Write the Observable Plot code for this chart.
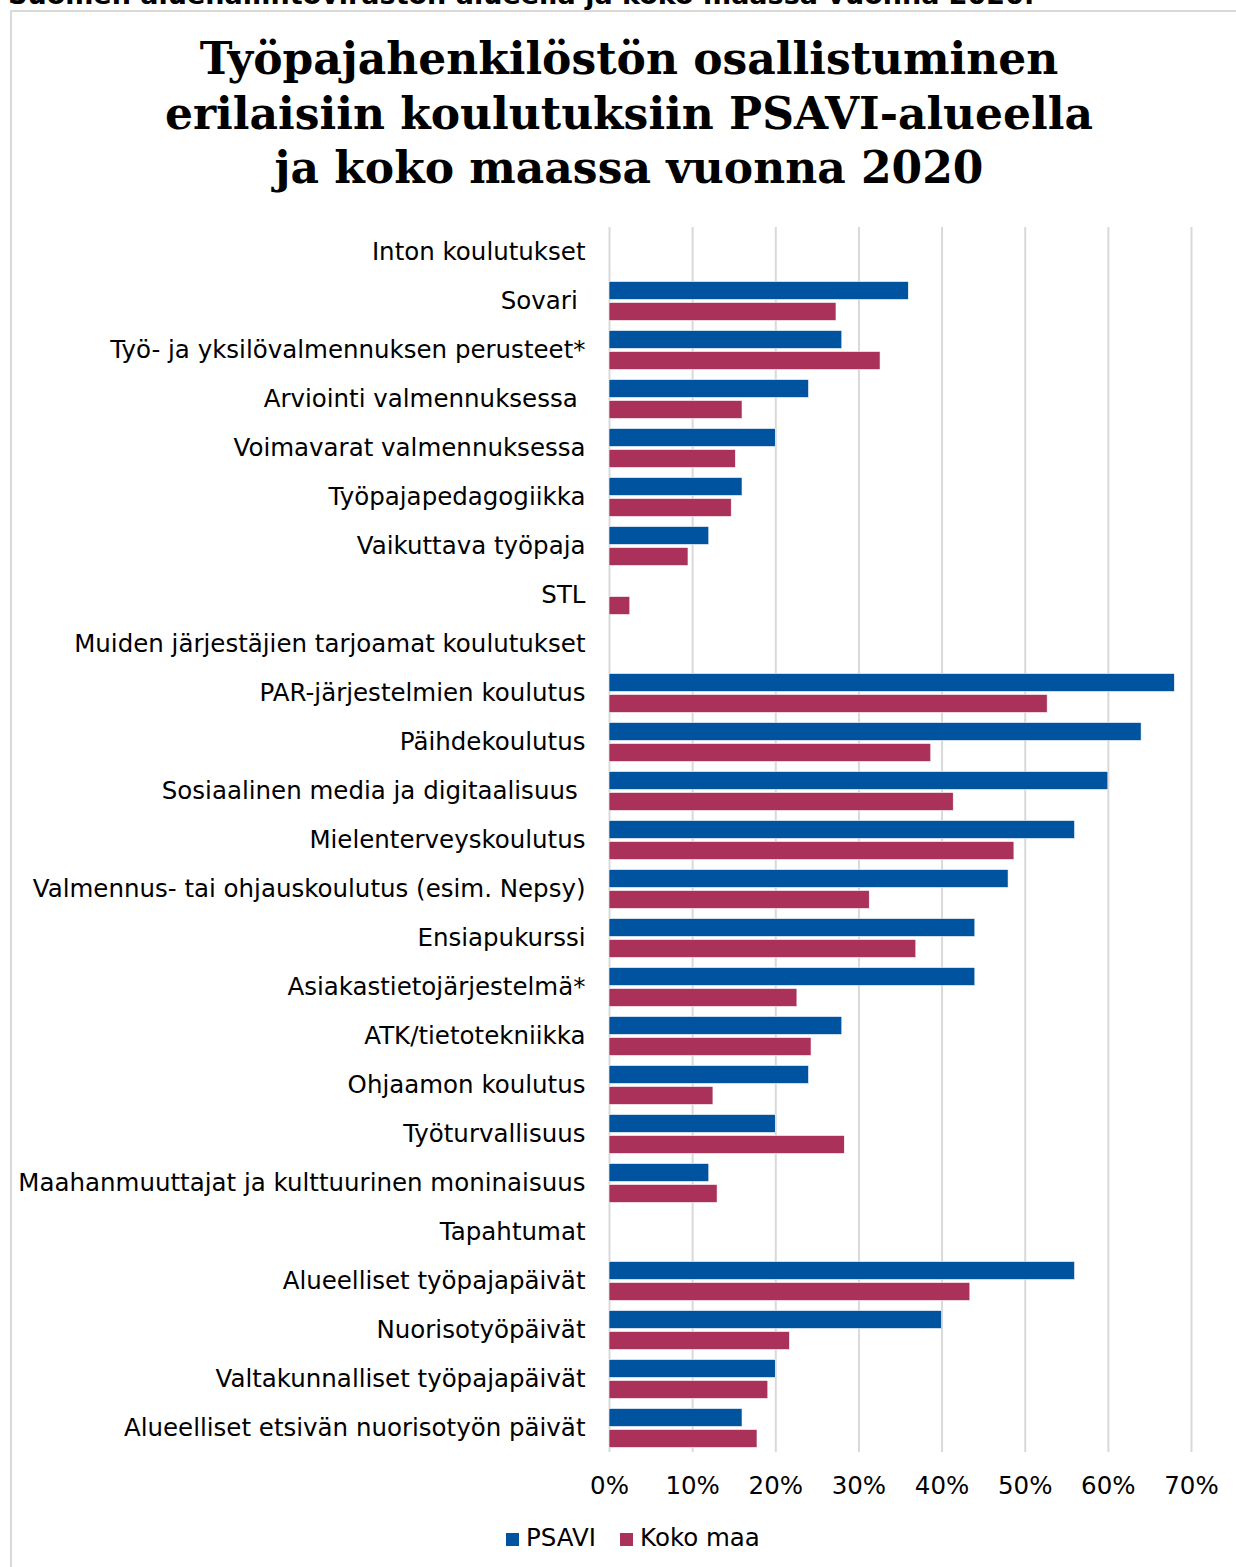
<!DOCTYPE html>
<html>
<head>
<meta charset="utf-8">
<script src="https://cdn.jsdelivr.net/npm/d3@7"></script>
<script src="https://cdn.jsdelivr.net/npm/@observablehq/plot@0.6"></script>
<style>
  html, body { margin: 0; padding: 0; background: #fff; }
  body { width: 1236px; height: 1567px; position: relative; overflow: hidden; font-family: "DejaVu Sans", Verdana, sans-serif; }
  #cut { position: absolute; left: 8px; top: -20px; font: bold 27px/30px "DejaVu Sans", Verdana, sans-serif; color: #000; white-space: nowrap; }
  #box { position: absolute; left: 10px; top: 10px; width: 1240px; height: 1570px; border: 2px solid #d9d9d9; box-sizing: border-box; }
  #title { position: absolute; left: 10px; width: 1238px; top: 32px; text-align: center; font: bold 44px/54.5px "DejaVu Serif", Georgia, serif; color: #000; }
  #chart { position: absolute; left: 0; top: 200px; }
  #legend { position: absolute; left: 0; width: 1236px; top: 1523px; display: flex; justify-content: center; padding-left: 30px; box-sizing: border-box; font: 24.5px "DejaVu Sans", Verdana, sans-serif; color: #000; }
  .item { display: flex; align-items: center; margin-right: 24px; }
  .item:last-child { margin-right: 0; }
  .sw { width: 13px; height: 13px; margin-right: 7px; margin-top: 3px; }
</style>
</head>
<body>
<div id="cut">Suomen aluehallintoviraston alueella ja koko maassa vuonna 2020.</div>
<div id="box"></div>
<div id="title">Työpajahenkilöstön osallistuminen<br>erilaisiin koulutuksiin PSAVI-alueella<br>ja koko maassa vuonna 2020</div>
<div id="chart"></div>
<div id="legend"></div>
<script>
const categories = [
  "Inton koulutukset",
  "Sovari\u00a0",
  "Työ- ja yksilövalmennuksen perusteet*",
  "Arviointi valmennuksessa\u00a0",
  "Voimavarat valmennuksessa",
  "Työpajapedagogiikka",
  "Vaikuttava työpaja",
  "STL",
  "Muiden järjestäjien tarjoamat koulutukset",
  "PAR-järjestelmien koulutus",
  "Päihdekoulutus",
  "Sosiaalinen media ja digitaalisuus\u00a0",
  "Mielenterveyskoulutus",
  "Valmennus- tai ohjauskoulutus (esim. Nepsy)",
  "Ensiapukurssi",
  "Asiakastietojärjestelmä*",
  "ATK/tietotekniikka",
  "Ohjaamon koulutus",
  "Työturvallisuus",
  "Maahanmuuttajat ja kulttuurinen moninaisuus",
  "Tapahtumat",
  "Alueelliset työpajapäivät",
  "Nuorisotyöpäivät",
  "Valtakunnalliset työpajapäivät",
  "Alueelliset etsivän nuorisotyön päivät"
];
const psavi   = [null, 36, 28, 24, 20, 16, 12, 0,   null, 68, 64, 60, 56, 48, 44, 44, 28, 24, 20, 12, null, 56, 40, 20, 16];
const kokoMaa = [null, 27.3, 32.6, 16.0, 15.2, 14.7, 9.5, 2.5, null, 52.7, 38.7, 41.4, 48.7, 31.3, 36.9, 22.6, 24.3, 12.5, 28.3, 13.0, null, 43.4, 21.7, 19.1, 17.8];
const seriesNames = ["PSAVI", "Koko maa"];
const seriesColors = ["#00549f", "#aa3159"];
const xTicks = [0, 10, 20, 30, 40, 50, 60, 70];

const rows = [];
categories.forEach((c, i) => {
  if (psavi[i] != null) rows.push({category: c, series: seriesNames[0], value: psavi[i]});
  if (kokoMaa[i] != null) rows.push({category: c, series: seriesNames[1], value: kokoMaa[i]});
});
const gridRows = categories.flatMap(c => xTicks.map(t => ({category: c, tick: t})));

const rowH = 49.05;
const marginTop = 26.5, marginBottom = 60;
const chart = Plot.plot({
  width: 1236,
  height: marginTop + marginBottom + rowH * categories.length,
  marginLeft: 609,
  marginRight: 45,
  marginTop,
  marginBottom,
  style: {fontFamily: "DejaVu Sans, Verdana, sans-serif", fontSize: "24.5px", color: "#000", background: "transparent", overflow: "visible"},
  x: {domain: [0, 70], ticks: xTicks, tickFormat: d => d + "%", tickSize: 0, tickPadding: 24, label: null},
  fy: {domain: categories, padding: 0, axis: "left", tickSize: 0, tickPadding: 24, label: null},
  y: {domain: seriesNames, paddingInner: 0.143, paddingOuter: 0.238, axis: null},
  color: {domain: seriesNames, range: seriesColors},
  marks: [
    Plot.ruleX(gridRows, {x: "tick", fy: "category", stroke: "#d9d9d9", strokeWidth: 2}),
    Plot.barX(rows, {x: "value", y: "series", fy: "category", fill: "series", stroke: "white", strokeWidth: 0.6, inset: 0})
  ]
});
document.getElementById("chart").appendChild(chart);

const legend = document.getElementById("legend");
seriesNames.forEach((s, i) => {
  const it = document.createElement("div");
  it.className = "item";
  const sw = document.createElement("div");
  sw.className = "sw";
  sw.style.background = seriesColors[i];
  const t = document.createElement("span");
  t.textContent = s;
  it.appendChild(sw); it.appendChild(t);
  legend.appendChild(it);
});
</script>
</body>
</html>
